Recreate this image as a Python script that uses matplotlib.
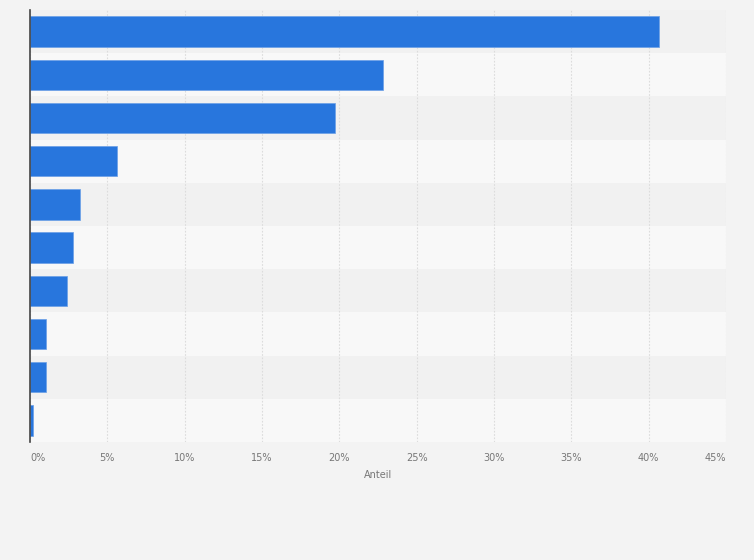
import matplotlib.pyplot as plt
import numpy as np

# shares in percent, top bar first (no category labels shown in the chart)
categories = ["1", "2", "3", "4", "5", "6", "7", "8", "9", "10"]
shares = [40.7, 22.8, 19.7, 5.65, 3.25, 2.75, 2.37, 1.05, 1.05, 0.17]
xticks = [0, 5, 10, 15, 20, 25, 30, 35, 40, 45]

fig = plt.figure(figsize=(7.54, 5.6), dpi=100)
fig.patch.set_facecolor("#f3f3f3")
ax = fig.add_axes([30 / 754, 118 / 560, 696 / 754, 432 / 560])
ax.set_facecolor("#f8f8f8")

n = len(categories)
y = np.arange(n)

# alternating row bands
for i in y:
    if i % 2 == 0:
        ax.axhspan(i - 0.5, i + 0.5, color="#f1f1f1", zorder=0, lw=0)

ax.barh(y, shares, height=0.7, color="#2876dd", edgecolor="#6a9fe6", linewidth=0.5, zorder=3)

ax.set_ylim(n - 0.5, -0.5)
ax.set_xlim(0, 45)
ax.set_xticks(xticks)
ax.set_xticklabels([f"{t}%" for t in xticks], fontsize=7, color="#777777")
labels = ax.get_xticklabels()
labels[0].set_horizontalalignment("left")
labels[-1].set_horizontalalignment("right")
ax.tick_params(axis="x", length=0, pad=8)
ax.set_yticks([])
ax.grid(axis="x", color="#dcdcdc", linestyle=(0, (1.5, 1.5)), linewidth=0.8, zorder=1)

for s in ["top", "right", "bottom"]:
    ax.spines[s].set_visible(False)
ax.spines["left"].set_color("#444444")
ax.spines["left"].set_linewidth(1.2)
ax.spines["left"].set_zorder(4)

ax.set_xlabel("Anteil", fontsize=7, color="#777777", labelpad=5)

fig.savefig("out.png", dpi=100, facecolor=fig.get_facecolor())
